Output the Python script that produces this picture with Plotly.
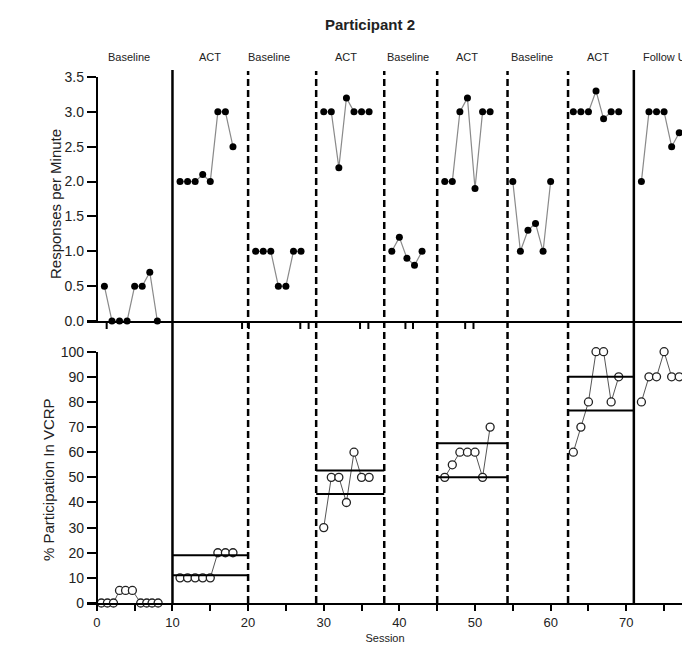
import plotly.graph_objects as go

# ---------------- data ----------------
# Responses per minute (top panel), per phase
bl1_s = [1, 2, 3, 4, 5, 6, 7, 8]
bl1_r = [0.5, 0.0, 0.0, 0.0, 0.5, 0.5, 0.7, 0.0]
act1_s = [11, 12, 13, 14, 15, 16, 17, 18]
act1_r = [2.0, 2.0, 2.0, 2.1, 2.0, 3.0, 3.0, 2.5]
bl2_s = [21, 22, 23, 24, 25, 26, 27]
bl2_r = [1.0, 1.0, 1.0, 0.5, 0.5, 1.0, 1.0]
act2_s = [30, 31, 32, 33, 34, 35, 36]
act2_r = [3.0, 3.0, 2.2, 3.2, 3.0, 3.0, 3.0]
bl3_s = [39, 40, 41, 42, 43]
bl3_r = [1.0, 1.2, 0.9, 0.8, 1.0]
act3_s = [46, 47, 48, 49, 50, 51, 52]
act3_r = [2.0, 2.0, 3.0, 3.2, 1.9, 3.0, 3.0]
bl4_s = [55, 56, 57, 58, 59, 60]
bl4_r = [2.0, 1.0, 1.3, 1.4, 1.0, 2.0]
act4_s = [63, 64, 65, 66, 67, 68, 69]
act4_r = [3.0, 3.0, 3.0, 3.3, 2.9, 3.0, 3.0]
fu_s = [72, 73, 74, 75, 76, 77]
fu_r = [2.0, 3.0, 3.0, 3.0, 2.5, 2.7]

# % participation in VCRP (bottom panel)
p_bl1_s = [0.6, 1.4, 2.2, 3.0, 3.8, 4.7, 5.8, 6.6, 7.3, 8.1]
p_bl1_v = [0, 0, 0, 5, 5, 5, 0, 0, 0, 0]
p_act1_s = [11, 12, 13, 14, 15, 16, 17, 18]
p_act1_v = [10, 10, 10, 10, 10, 20, 20, 20]
p_act2_s = [30, 31, 32, 33, 34, 35, 36]
p_act2_v = [30, 50, 50, 40, 60, 50, 50]
p_act3_s = [46, 47, 48, 49, 50, 51, 52]
p_act3_v = [50, 55, 60, 60, 60, 50, 70]
p_act4_s = [63, 64, 65, 66, 67, 68, 69]
p_act4_v = [60, 70, 80, 100, 100, 80, 90]
p_fu_s = [72, 73, 74, 75, 76, 77]
p_fu_v = [80, 90, 90, 100, 90, 90]

# criterion lines in the bottom panel (per ACT phase)
crit_start = [10, 29, 45, 62.3]
crit_end = [20, 38, 54.3, 71]
crit_low = [11, 43.4, 50, 76.6]
crit_high = [19, 52.7, 63.6, 90]

# phase change lines
solid_phase = [10, 71]
dashed_phase = [20, 29, 38, 45, 54.3, 62.3]

phase_names = ["Baseline", "ACT", "Baseline", "ACT", "Baseline", "ACT",
               "Baseline", "ACT", "Follow Up"]
phase_label_x = [4.3, 14.9, 22.8, 32.9, 41.1, 49.0, 57.6, 66.2, 71.9]

top_ticks = [0.0, 0.5, 1.0, 1.5, 2.0, 2.5, 3.0, 3.5]
top_ticktext = ["0.0", "0.5", "1.0", "1.5", "2.0", "2.5", "3.0", "3.5"]
bot_ticks = [0, 10, 20, 30, 40, 50, 60, 70, 80, 90, 100]
x_ticks = [0, 5, 10, 15, 20, 25, 30, 35, 40, 45, 50, 55, 60, 65, 70, 75]
x_ticktext = ["0", "", "10", "", "20", "", "30", "", "40", "", "50", "", "60", "", "70", ""]

# stray tick marks under the top panel axis
stray_x = [1.3, 19.2, 20.1, 26.9, 28.0, 34.8, 35.9, 40.8, 41.8, 48.7, 49.8]

# ---------------- figure ----------------
FONT = "Liberation Sans Narrow, Arial Narrow, Liberation Sans, Arial, sans-serif"
TXT = "#222"
W, H = 682, 646           # page body has an 8px margin
L, R, T, B = 79, 7, 69, 51
PW, PH = W - L - R, H - T - B


def px_x(px):             # page pixel -> paper x
    return (px - 8 - L) / PW


def px_y(py):             # page pixel -> paper y
    return (H - B - (py - 8)) / PH


fig = go.Figure()

top_phases = [(bl1_s, bl1_r), (act1_s, act1_r), (bl2_s, bl2_r), (act2_s, act2_r),
              (bl3_s, bl3_r), (act3_s, act3_r), (bl4_s, bl4_r), (act4_s, act4_r),
              (fu_s, fu_r)]
for s, r in top_phases:
    fig.add_trace(go.Scatter(
        x=s, y=r, xaxis="x", yaxis="y", mode="lines+markers",
        line=dict(color="#8a8a8a", width=1.2),
        marker=dict(color="black", size=7, symbol="circle"),
        cliponaxis=False, showlegend=False, hoverinfo="skip"))

bot_phases = [(p_bl1_s, p_bl1_v), (p_act1_s, p_act1_v), (p_act2_s, p_act2_v),
              (p_act3_s, p_act3_v), (p_act4_s, p_act4_v), (p_fu_s, p_fu_v)]
for s, v in bot_phases:
    fig.add_trace(go.Scatter(
        x=s, y=v, xaxis="x2", yaxis="y2", mode="lines+markers",
        line=dict(color="#555", width=1),
        marker=dict(color="white", size=8, symbol="circle",
                    line=dict(color="#222", width=1.3)),
        cliponaxis=False, showlegend=False, hoverinfo="skip"))

# criterion lines
cx, cy = [], []
for a, b, lo, hi in zip(crit_start, crit_end, crit_low, crit_high):
    cx += [a, b, None, a, b, None]
    cy += [lo, lo, None, hi, hi, None]
fig.add_trace(go.Scatter(x=cx, y=cy, xaxis="x2", yaxis="y2", mode="lines",
                         line=dict(color="black", width=2), showlegend=False,
                         hoverinfo="skip", cliponaxis=False))

shapes = []
for xv in solid_phase:
    shapes.append(dict(type="line", xref="x2", yref="paper", x0=xv, x1=xv,
                       y0=0, y1=px_y(70), line=dict(color="black", width=2.5)))
for xv in dashed_phase:
    shapes.append(dict(type="line", xref="x2", yref="paper", x0=xv, x1=xv,
                       y0=0, y1=px_y(71), line=dict(color="black", width=2.5, dash="7px,4px")))
# stray ticks under the top panel's axis
for xv in stray_x:
    shapes.append(dict(type="line", xref="x2", yref="paper", x0=xv, x1=xv,
                       y0=px_y(322), y1=px_y(329), line=dict(color="black", width=2)))

annotations = []
for name, xv in zip(phase_names, phase_label_x):
    annotations.append(dict(x=xv, y=px_y(57), xref="x2", yref="paper", text=name,
                            showarrow=False, yanchor="middle",
                            xanchor="left" if name == "Follow Up" else "center",
                            font=dict(family=FONT, size=11, color=TXT)))
annotations.append(dict(x=px_x(55), y=px_y(204), xref="paper", yref="paper",
                        text="Responses per Minute", textangle=-90, showarrow=False,
                        xanchor="center", yanchor="middle",
                        font=dict(family=FONT, size=15, color=TXT)))
annotations.append(dict(x=px_x(48), y=px_y(480), xref="paper", yref="paper",
                        text="% Participation In VCRP", textangle=-90, showarrow=False,
                        xanchor="center", yanchor="middle",
                        font=dict(family=FONT, size=15, color=TXT)))

fig.update_layout(
    width=W, height=H,
    margin=dict(l=L, r=R, t=T, b=B, autoexpand=False),
    paper_bgcolor="white", plot_bgcolor="white",
    font=dict(family=FONT, size=12, color=TXT),
    title=dict(text="<b>Participant 2</b>", x=(370 - 8) / W, xanchor="center",
               y=1 - (25 - 8) / H, yanchor="middle",
               font=dict(family="Liberation Sans, Arial, sans-serif", size=15, color=TXT)),
    shapes=shapes, annotations=annotations,
    xaxis=dict(domain=[0, 1], range=[-1.3, 77.5], anchor="y", showline=True,
               linecolor="black", linewidth=2, ticks="", showticklabels=False,
               showgrid=False, zeroline=False),
    xaxis2=dict(domain=[0, 1], range=[-1.3, 77.5], anchor="y2", matches="x",
                showline=True, linecolor="black", linewidth=2, ticks="outside",
                ticklen=6, tickwidth=2, tickcolor="black",
                tickvals=x_ticks, ticktext=x_ticktext, showgrid=False, zeroline=False,
                tickfont=dict(size=13),
                title=dict(text="Session", standoff=6, font=dict(size=11))),
    yaxis=dict(domain=[px_y(321), 1], range=[0, 3.5], anchor="free",
               position=1.3 / 78.8,
               showline=True, linecolor="black", linewidth=2, ticks="outside",
               ticklen=9, tickwidth=2, tickcolor="black", tickvals=top_ticks,
               ticktext=top_ticktext, showgrid=False, zeroline=False,
               tickfont=dict(size=14)),
    yaxis2=dict(domain=[0, px_y(351.7)], range=[0, 100], anchor="free",
                position=1.3 / 78.8,
                showline=True, linecolor="black", linewidth=2, ticks="outside",
                ticklen=9, tickwidth=2, tickcolor="black", tickvals=bot_ticks,
                showgrid=False, zeroline=False, tickfont=dict(size=14)),
)

fig.write_html("out.html")
